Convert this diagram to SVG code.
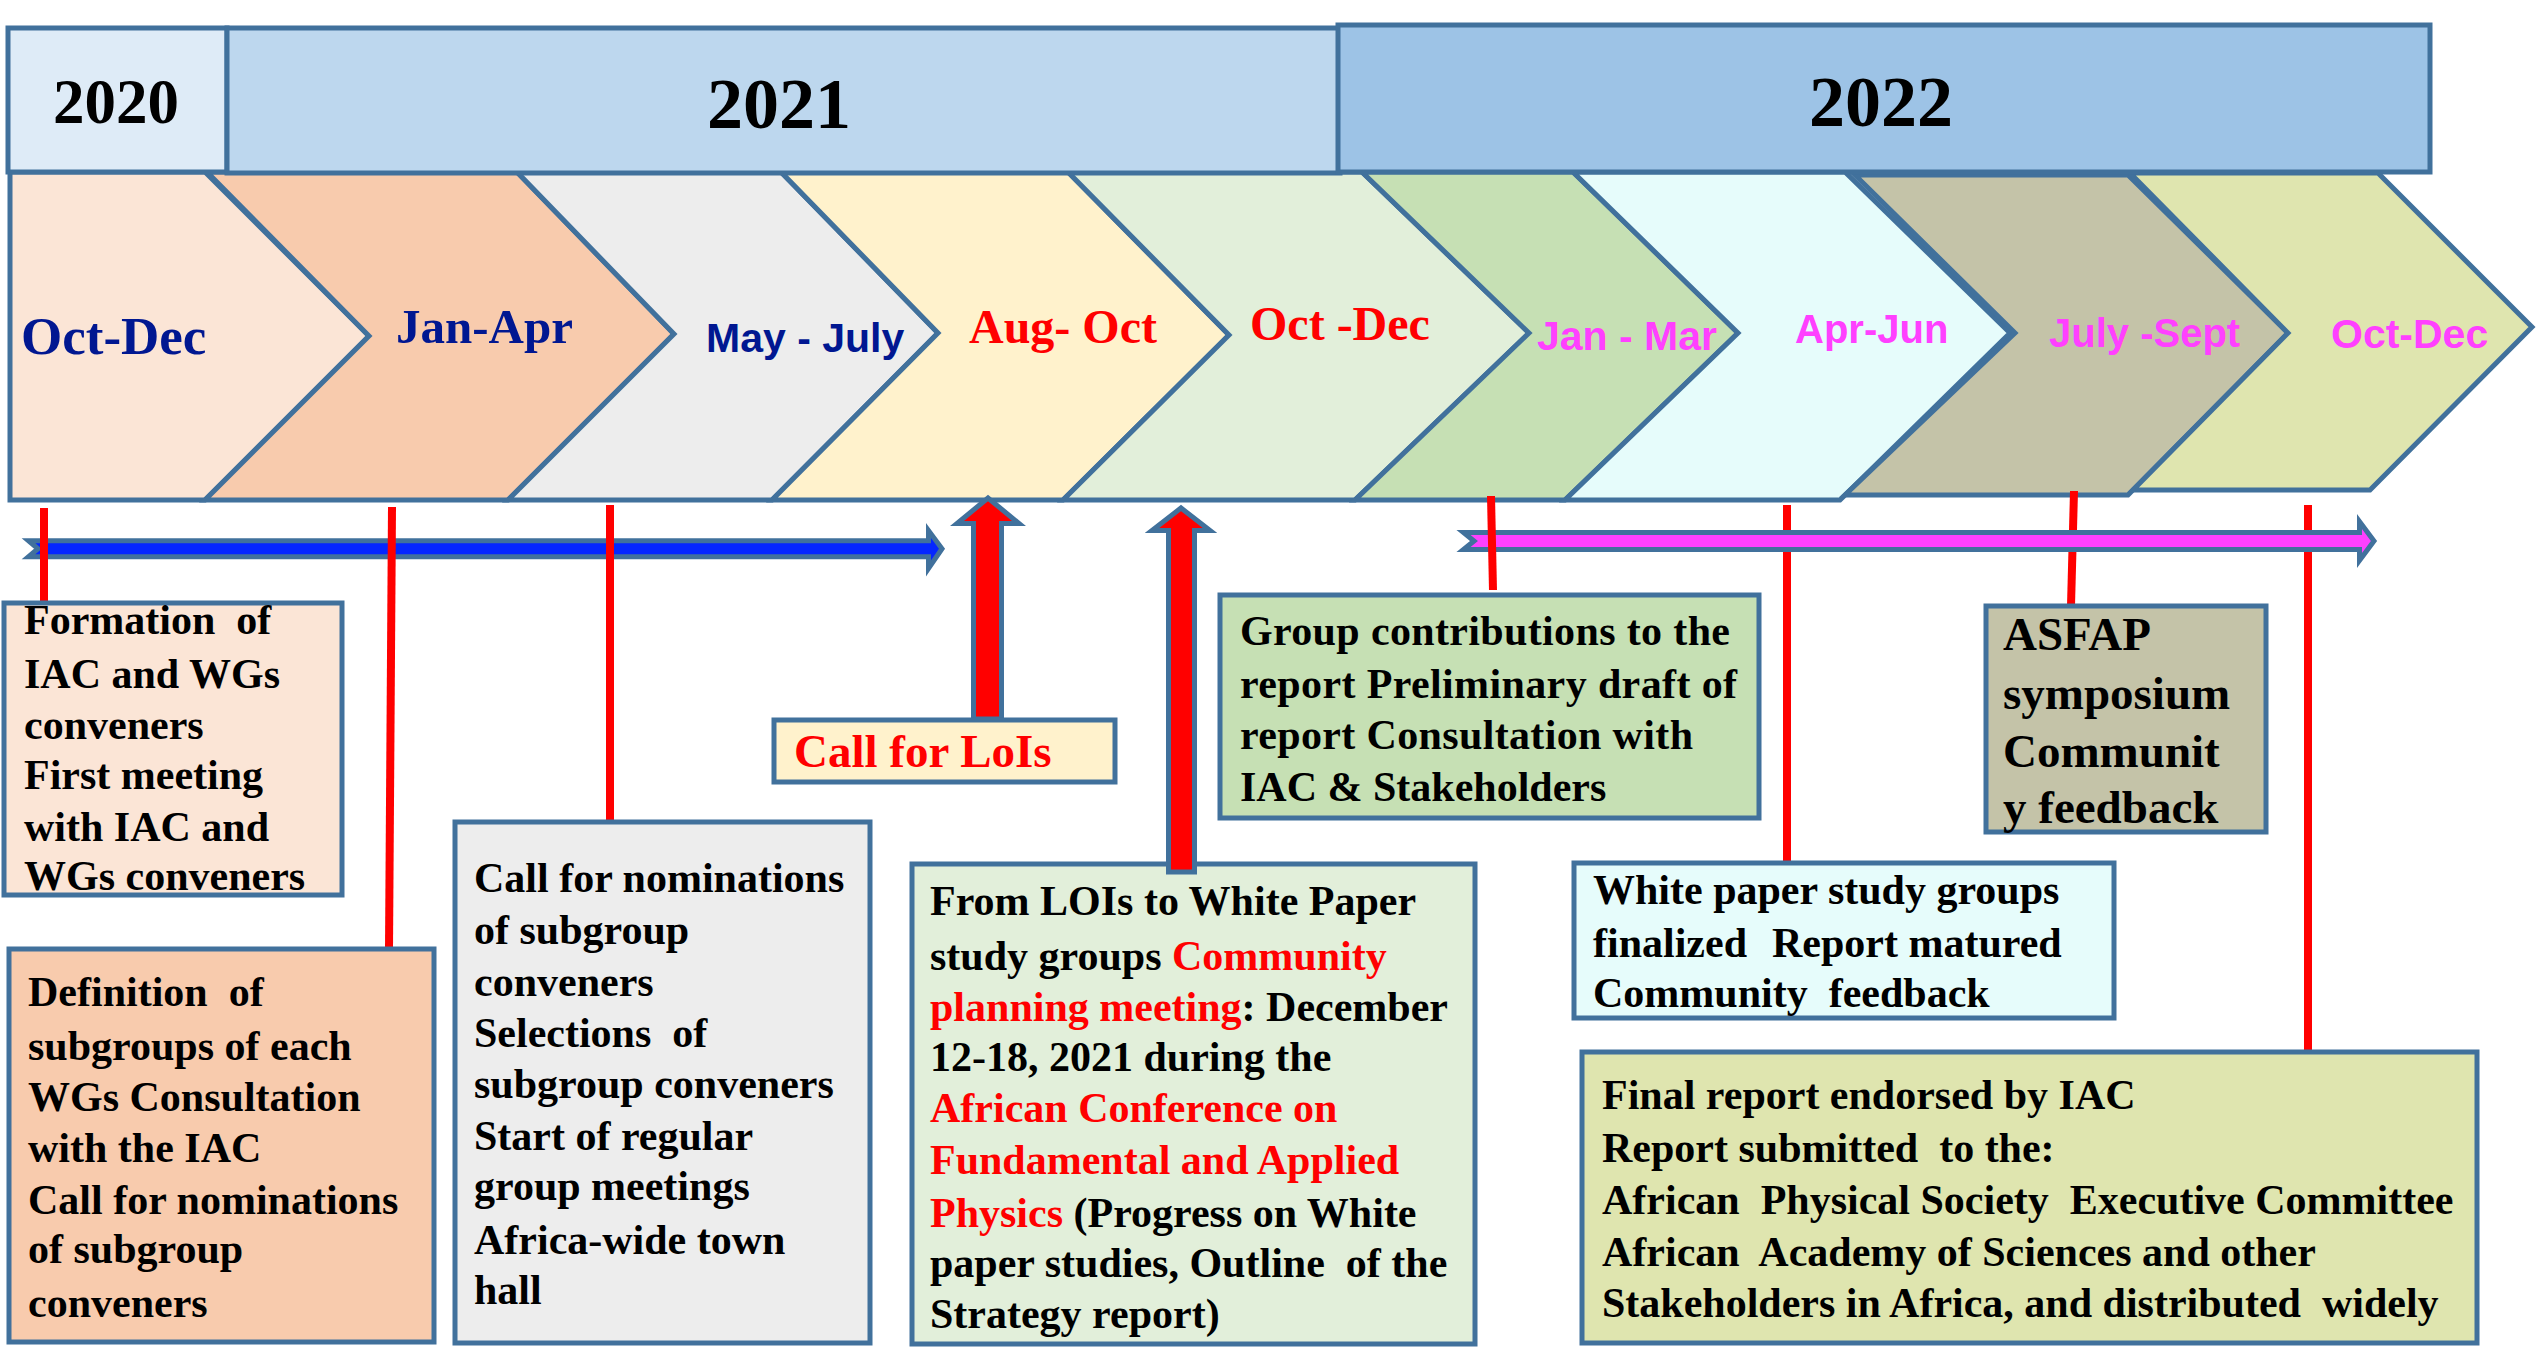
<svg xmlns="http://www.w3.org/2000/svg" width="2539" height="1350" viewBox="0 0 2539 1350">
<style>
.chev{stroke:#41719c;stroke-width:5;stroke-linejoin:miter}
.yr{stroke:#41719c;stroke-width:5}
.box{stroke:#41719c;stroke-width:5}
.serif{font-family:"Liberation Serif","Times New Roman",serif;font-weight:bold}
.sans{font-family:"Liberation Sans",Arial,sans-serif;font-weight:bold}
.t{font-family:"Liberation Serif","Times New Roman",serif;font-weight:bold;font-size:42px;fill:#000}
.red{fill:#ff0000}
.navy{fill:#001791}
.mag{fill:#ff40ff}
.vl{stroke:#ff0000;stroke-width:8;fill:none}
.arr{stroke:#41719c;stroke-width:5;stroke-linejoin:miter}
</style>
<rect width="2539" height="1350" fill="#ffffff"/>

<g id="chevrons">
  <g id="chev-2020-octdec"><polygon class="chev" fill="#fbe5d6" points="10,172 205,172 369,336 205,500 10,500"/></g>
  <g id="chev-2021-janapr"><polygon class="chev" fill="#f8cbad" points="207,172 517,172 674,334 508,500 205,500 369,336"/></g>
  <g id="chev-2021-mayjuly"><polygon class="chev" fill="#ededed" points="517,172 781,172 938,333 772,500 508,500 674,334"/></g>
  <g id="chev-2021-augoct"><polygon class="chev" fill="#fff2cc" points="781,172 1068,172 1229,335 1063,500 772,500 938,333"/></g>
  <g id="chev-2021-octdec"><polygon class="chev" fill="#e2efda" points="1068,172 1362,172 1529,333 1355,500 1063,500 1229,335"/></g>
  <g id="chev-2022-janmar"><polygon class="chev" fill="#c6e0b4" points="1362,172 1573,172 1738,333 1565,500 1355,500 1529,333"/></g>
  <g id="chev-2022-aprjun"><polygon class="chev" fill="#e6fcfb" points="1573,172 1845,172 2010,333 1840,500 1565,500 1738,333"/></g>
  <g id="chev-2022-julysept"><polygon class="chev" fill="#c4c3a8" points="1855,175 2128,175 2288,333 2128,495 1845,495 2015,333"/></g>
  <g id="chev-2022-octdec"><polygon class="chev" fill="#dfe5af" points="2130,173 2378,173 2532,327 2370,490 2133,490 2288,333"/></g>
</g>

<g id="years">
  <g id="year-2020"><rect class="yr" x="8" y="28" width="219" height="144" fill="#deebf7"/>
    <text class="serif" x="116" y="123" font-size="63" text-anchor="middle">2020</text></g>
  <g id="year-2021"><rect class="yr" x="227" y="28" width="1113" height="145" fill="#bdd7ee"/>
    <text class="serif" x="779" y="128" font-size="72" text-anchor="middle">2021</text></g>
  <g id="year-2022"><rect class="yr" x="1338" y="25" width="1092" height="147" fill="#9dc3e6"/>
    <text class="serif" x="1881" y="126" font-size="72" text-anchor="middle">2022</text></g>
</g>

<g id="period-labels">
  <text class="serif navy" x="21" y="354" font-size="53">Oct-Dec</text>
  <text class="serif navy" x="396" y="343" font-size="49">Jan-Apr</text>
  <text class="sans navy" x="706" y="352" font-size="41">May - July</text>
  <text class="serif red" x="969" y="343" font-size="48">Aug- Oct</text>
  <text class="serif red" x="1250" y="340" font-size="48">Oct -Dec</text>
  <text class="sans mag" x="1537" y="350" font-size="41">Jan - Mar</text>
  <text class="sans mag" x="1795" y="343" font-size="40">Apr-Jun</text>
  <text class="sans mag" x="2049" y="347" font-size="40">July -Sept</text>
  <text class="sans mag" x="2331" y="348" font-size="41">Oct-Dec</text>
</g>

<g id="connectors">
  <line class="vl" x1="2308" y1="505" x2="2308" y2="1050"/>
  <line class="vl" x1="1787" y1="505" x2="1787" y2="862"/>
  <line class="vl" x1="2074" y1="491" x2="2071" y2="606"/>
  <path id="blue-arrow" class="arr" fill="#0526ff" d="M28.5,540.75 L928.5,540.75 L928.5,530.5 L942,548.75 L928.5,568.5 L928.5,556.75 L28.5,556.75 L38,548.75 Z"/>
  <path id="magenta-arrow" class="arr" fill="#ff40ff" d="M1463.5,532.5 L2359.5,532.5 L2359.5,521.5 L2374,541 L2359.5,560.5 L2359.5,549.5 L1463.5,549.5 L1474,541 Z"/>
  <line class="vl" x1="44" y1="508" x2="44" y2="606"/>
  <line class="vl" x1="392" y1="507" x2="389" y2="950"/>
  <line class="vl" x1="610" y1="505" x2="610" y2="823"/>
  <line class="vl" x1="1491" y1="496" x2="1493" y2="590"/>
  <path id="up-arrow-lois" class="arr" fill="#ff0000" d="M973.5,719 L973.5,523.5 L957,523.5 L988,498 L1019,523.5 L1001.5,523.5 L1001.5,719 Z"/>
</g>

<g id="box-formation">
  <rect class="box" x="4" y="603" width="338" height="292" fill="#fbe5d6"/>
  <text class="t" xml:space="preserve"><tspan x="24" y="634">Formation  of</tspan><tspan x="24" y="688">IAC and WGs</tspan><tspan x="24" y="739">conveners</tspan><tspan x="24" y="789">First meeting</tspan><tspan x="24" y="841">with IAC and</tspan><tspan x="24" y="890">WGs conveners</tspan></text>
</g>

<g id="box-definition">
  <rect class="box" x="9" y="949" width="425" height="393" fill="#f8cbad"/>
  <text class="t" xml:space="preserve"><tspan x="28" y="1006">Definition  of</tspan><tspan x="28" y="1060">subgroups of each</tspan><tspan x="28" y="1111">WGs Consultation</tspan><tspan x="28" y="1162">with the IAC</tspan><tspan x="28" y="1214">Call for nominations</tspan><tspan x="28" y="1263">of subgroup</tspan><tspan x="28" y="1317">conveners</tspan></text>
</g>

<g id="box-nominations">
  <rect class="box" x="455" y="822" width="415" height="521" fill="#ededed"/>
  <text class="t" xml:space="preserve"><tspan x="474" y="892">Call for nominations</tspan><tspan x="474" y="944">of subgroup</tspan><tspan x="474" y="996">conveners</tspan><tspan x="474" y="1047">Selections  of</tspan><tspan x="474" y="1098">subgroup conveners</tspan><tspan x="474" y="1150">Start of regular</tspan><tspan x="474" y="1200">group meetings</tspan><tspan x="474" y="1254">Africa-wide town</tspan><tspan x="474" y="1304">hall</tspan></text>
</g>

<g id="box-call-lois">
  <rect class="box" x="774" y="720" width="341" height="62" fill="#fff2cc"/>
  <text class="serif red" x="794" y="767" font-size="47">Call for LoIs</text>
</g>

<g id="box-from-lois">
  <rect class="box" x="912" y="864" width="563" height="480" fill="#e2efda"/>
  <text class="t" xml:space="preserve"><tspan x="930" y="915">From LOIs to White Paper</tspan><tspan x="930" y="970">study groups <tspan class="red">Community</tspan></tspan><tspan x="930" y="1021"><tspan class="red">planning meeting</tspan>: December</tspan><tspan x="930" y="1071">12-18, 2021 during the</tspan><tspan x="930" y="1122" class="red">African Conference on</tspan><tspan x="930" y="1174" class="red">Fundamental and Applied</tspan><tspan x="930" y="1227"><tspan class="red">Physics</tspan> (Progress on White</tspan><tspan x="930" y="1277">paper studies, Outline  of the</tspan><tspan x="930" y="1328">Strategy report)</tspan></text>
</g>
<path id="up-arrow-community" class="arr" fill="#ff0000" d="M1168.5,872 L1168.5,530.5 L1152,530.5 L1181,508 L1210,530.5 L1194.5,530.5 L1194.5,872 Z"/>

<g id="box-group-contrib">
  <rect class="box" x="1220" y="595" width="539" height="223" fill="#c6e0b4"/>
  <text class="t"><tspan x="1240" y="645" textLength="490" lengthAdjust="spacing">Group contributions to the</tspan><tspan x="1240" y="698" textLength="497" lengthAdjust="spacing">report Preliminary draft of</tspan><tspan x="1240" y="749" textLength="453" lengthAdjust="spacing">report Consultation with</tspan><tspan x="1240" y="801">IAC &amp; Stakeholders</tspan></text>
</g>

<g id="box-asfap">
  <rect class="box" x="1986" y="606" width="280" height="226" fill="#c4c3a8"/>
  <text class="serif" font-size="47"><tspan x="2003" y="650">ASFAP</tspan><tspan x="2003" y="709">symposium</tspan><tspan x="2003" y="767">Communit</tspan><tspan x="2003" y="823">y feedback</tspan></text>
</g>

<g id="box-white-paper">
  <rect class="box" x="1574" y="863" width="540" height="155" fill="#e6fcfb"/>
  <text class="t" xml:space="preserve"><tspan x="1593" y="904">White paper study groups</tspan><tspan x="1593" y="957">finalized</tspan><tspan x="1772" y="957">Report matured</tspan><tspan x="1593" y="1007">Community  feedback</tspan></text>
</g>

<g id="box-final-report">
  <rect class="box" x="1582" y="1052" width="895" height="291" fill="#dfe5af"/>
  <text class="t" xml:space="preserve"><tspan x="1602" y="1109">Final report endorsed by IAC</tspan><tspan x="1602" y="1162">Report submitted  to the:</tspan><tspan x="1602" y="1214">African  Physical Society  Executive Committee</tspan><tspan x="1602" y="1266">African  Academy of Sciences and other</tspan><tspan x="1602" y="1317">Stakeholders in Africa, and distributed  widely</tspan></text>
</g>
</svg>
